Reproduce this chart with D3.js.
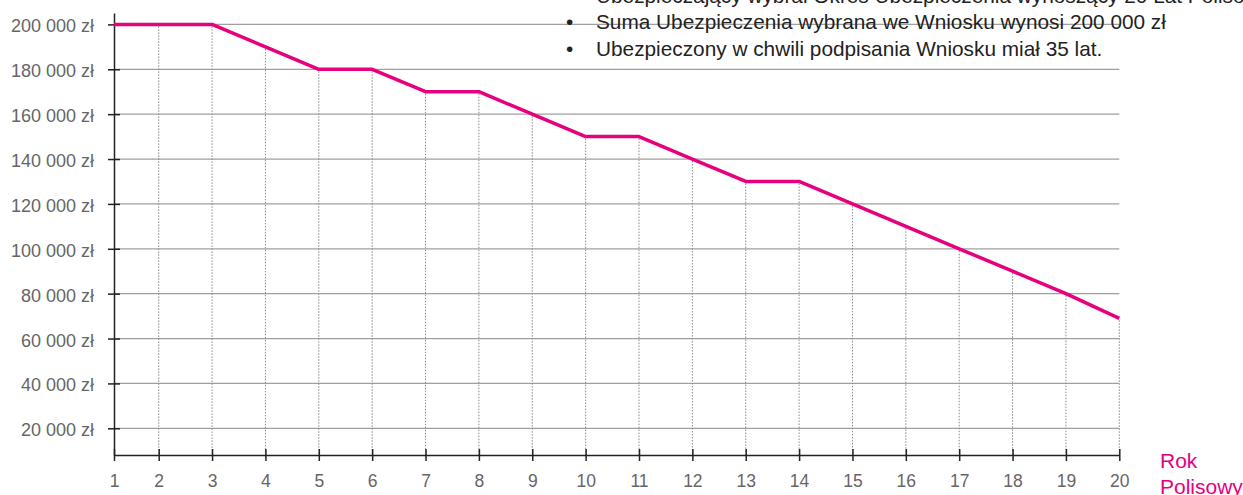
<!DOCTYPE html>
<html>
<head>
<meta charset="utf-8">
<script src="https://cdn.jsdelivr.net/npm/d3@7"></script>
<style>
  html, body { margin: 0; padding: 0; background: #fff; overflow: hidden; }
  svg { display: block; font-family: "Liberation Sans", Arial, sans-serif; }
</style>
</head>
<body>
<div id="chartDiv"></div>
<script>
// data
var years = [1, 2, 3, 4, 5, 6, 7, 8, 9, 10, 11, 12, 13, 14, 15, 16, 17, 18, 19, 20];
var sums = [200000, 200000, 200000, 190000, 180000, 180000, 170000, 170000, 160000, 150000,
            150000, 140000, 130000, 130000, 120000, 110000, 100000, 90000, 80000, 69000];
var yTicks = [20000, 40000, 60000, 80000, 100000, 120000, 140000, 160000, 180000, 200000];
var notes = [
    'Ubezpieczający wybrał Okres Ubezpieczenia wynoszący 20 Lat Polisowych.',
    'Suma Ubezpieczenia wybrana we Wniosku wynosi 200 000 zł',
    'Ubezpieczony w chwili podpisania Wniosku miał 35 lat.'
];
var xTitle = ['Rok', 'Polisowy'];

var width = 1243;
var height = 495;
var pink = '#e6007e';

function formatZl(v){
    // "200 000 zł"
    return d3.format(',')(v).replace(/,/g, ' ') + ' zł';
}

var svg = d3.select('#chartDiv')
    .append('svg')
    .attr('width', width)
    .attr('height', height);

// first year sits on the y axis, the rest are evenly spaced
var x = d3.scaleLinear()
    .domain([1, 2, 20])
    .range([114, 158.7, 1119.3]);

var y = d3.scaleLinear()
    .domain([8100, 205080])
    .range([455, 13]);

// horizontal grid
svg.append('g')
    .selectAll('line')
    .data(yTicks)
    .enter()
    .append('line')
    .attr('x1', x(1))
    .attr('x2', x(20))
    .attr('y1', function(d){ return y(d); })
    .attr('y2', function(d){ return y(d); })
    .attr('stroke', '#a0a0a0')
    .attr('stroke-width', 1.3);

// dotted drop lines from each point to the axis
svg.append('g')
    .selectAll('line')
    .data(years.slice(1))
    .enter()
    .append('line')
    .attr('x1', function(d){ return x(d); })
    .attr('x2', function(d){ return x(d); })
    .attr('y1', function(d){ return y(sums[d - 1]) + 2; })
    .attr('y2', y.range()[0])
    .attr('stroke', '#888')
    .attr('stroke-width', 1)
    .attr('stroke-dasharray', '1.5,1.5');

// y axis
var yAxis = svg.append('g')
    .attr('transform', 'translate(' + x(1) + ',0)')
    .call(d3.axisLeft(y)
        .tickValues(yTicks)
        .tickFormat(formatZl)
        .tickSizeInner(6)
        .tickSizeOuter(0)
        .tickPadding(14));
yAxis.selectAll('.tick line').attr('x1', 6).attr('stroke', '#222').attr('stroke-width', 1.5);
yAxis.select('.domain').attr('stroke', '#222').attr('stroke-width', 1.5);
yAxis.selectAll('.tick text')
    .attr('fill', '#666')
    .attr('dy', '0.42em')
    .style('font-size', '18px')
    .style('font-family', '"Liberation Sans", Arial, sans-serif');

// x axis
var xAxis = svg.append('g')
    .attr('transform', 'translate(0,' + y.range()[0] + ')')
    .call(d3.axisBottom(x)
        .tickValues(years)
        .tickFormat(d3.format('d'))
        .tickSizeInner(6)
        .tickSizeOuter(0)
        .tickPadding(14));
xAxis.selectAll('.tick line').attr('y1', -6).attr('stroke', '#222').attr('stroke-width', 1.5);
xAxis.select('.domain').attr('stroke', '#222').attr('stroke-width', 1.5);
xAxis.selectAll('.tick text')
    .attr('fill', '#666')
    .style('font-size', '17.5px')
    .style('font-family', '"Liberation Sans", Arial, sans-serif');

// the sum line
var line = d3.line()
    .x(function(d, i){ return x(years[i]); })
    .y(function(d){ return y(d); });

svg.append('path')
    .datum(sums)
    .attr('d', line)
    .attr('fill', 'none')
    .attr('stroke', pink)
    .attr('stroke-width', 3.5)
    .attr('stroke-linejoin', 'round');

// axis title, pink, below right
svg.append('g')
    .selectAll('text')
    .data(xTitle)
    .enter()
    .append('text')
    .attr('x', 1160)
    .attr('y', function(d, i){ return 468 + i * 25.5; })
    .attr('fill', pink)
    .style('font-size', '21px')
    .text(function(d){ return d; });

// notes, top right
var noteG = svg.append('g');
notes.forEach(function(t, i){
    var by = 3 + i * 26.4;
    noteG.append('text')
        .attr('x', 566)
        .attr('y', by)
        .attr('fill', '#222')
        .style('font-size', '20.8px')
        .text('•');
    noteG.append('text')
        .attr('x', 596)
        .attr('y', by)
        .attr('fill', '#222')
        .style('font-size', '20.8px')
        .text(t);
});
</script>
</body>
</html>
